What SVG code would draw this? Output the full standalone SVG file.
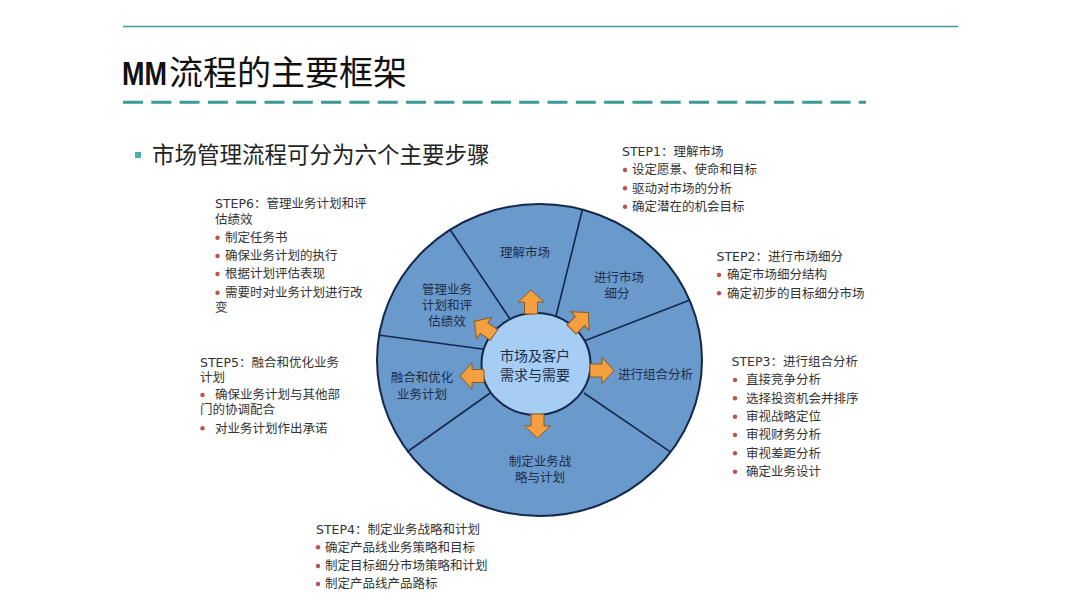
<svg xmlns="http://www.w3.org/2000/svg" width="1080" height="601" viewBox="0 0 1080 601">
<style>
.t{font-family:"DejaVu Sans","Noto Sans CJK SC",sans-serif;font-size:12.5px;fill:#333333}
.w{font-family:"Noto Sans CJK SC","DejaVu Sans",sans-serif;font-size:12.5px;fill:#1E2D4A;text-anchor:middle}
.c{font-family:"Noto Sans CJK SC","DejaVu Sans",sans-serif;font-size:14px;fill:#1E2D4A;text-anchor:middle}
.b{fill:#C0504D}
.rad{stroke:#14284B;stroke-width:1.6;fill:none}
.arr{fill:#F4A040;stroke:#8A5A22;stroke-width:1}
</style>
<defs>
<path id="arrow" d="M-6.5,0 L-6.5,-12 L-13,-12 L0,-24 L13,-12 L6.5,-12 L6.5,0 Z"/>
</defs>
<rect width="1080" height="601" fill="#FFFFFF"/>
<g id="header">
<line x1="123" y1="26.5" x2="958" y2="26.5" stroke="#3A9A98" stroke-width="1.5"/>
<text x="122" y="85" font-family="Liberation Sans,Arial,sans-serif" font-size="34" font-weight="bold" fill="#111111" textLength="45" lengthAdjust="spacingAndGlyphs">MM</text>
<text x="169" y="85" font-family="Noto Sans CJK SC,sans-serif" font-size="34" fill="#111111">流程的主要框架</text>
<line x1="123" y1="102.3" x2="866" y2="102.3" stroke="#3A9A98" stroke-width="3" stroke-dasharray="20 8.3"/>
</g>
<g id="intro">
<rect x="135" y="152" width="6" height="6" fill="#4BAFB0"/>
<text x="152" y="163" font-family="Noto Sans CJK SC,sans-serif" font-size="22.5" fill="#222222">市场管理流程可分为六个主要步骤</text>
</g>
<g id="wheel">
<ellipse cx="539.5" cy="360" rx="162.5" ry="156" fill="#6A99CC" stroke="#14284B" stroke-width="2"/>
</g>
<g id="connectors">
<line class="rad" x1="450" y1="229.5" x2="512" y2="322"/>
<line class="rad" x1="582.3" y1="210" x2="556" y2="316"/>
<line class="rad" x1="690" y1="300" x2="584" y2="341"/>
<line class="rad" x1="584" y1="393" x2="670" y2="451.7"/>
<line class="rad" x1="493" y1="391" x2="407" y2="452"/>
<line class="rad" x1="484" y1="349.3" x2="378.3" y2="335"/>
</g>
<g id="hub">
<ellipse cx="536" cy="364" rx="54.5" ry="51" fill="#A6CDF3" stroke="#14284B" stroke-width="2"/>
<text class="c" x="535" y="361">市场及客户</text>
<text class="c" x="535" y="380">需求与需要</text>
</g>
<g id="arrows">
<use href="#arrow" class="arr" transform="translate(531,314)"/>
<use href="#arrow" class="arr" transform="translate(571.5,329.5) rotate(45)"/>
<use href="#arrow" class="arr" transform="translate(590,370.5) rotate(90)"/>
<use href="#arrow" class="arr" transform="translate(537.5,414) rotate(180)"/>
<use href="#arrow" class="arr" transform="translate(484,376) rotate(-90)"/>
<use href="#arrow" class="arr" transform="translate(494,335) rotate(-55)"/>
</g>
<g id="seg1"><text class="w" x="525" y="257">理解市场</text></g>
<g id="seg2"><text class="w" x="619" y="282.3">进行市场</text><text class="w" x="617" y="298.3">细分</text></g>
<g id="seg3"><text class="w" x="618" y="379.3" style="text-anchor:start">进行组合分析</text></g>
<g id="seg4"><text class="w" x="540" y="465.8">制定业务战</text><text class="w" x="540" y="481.8">略与计划</text></g>
<g id="seg5"><text class="w" x="422" y="382">融合和优化</text><text class="w" x="422" y="398.5">业务计划</text></g>
<g id="seg6"><text class="w" x="447" y="294.3">管理业务</text><text class="w" x="447" y="310.3">计划和评</text><text class="w" x="447" y="326.3">估绩效</text></g>
<g id="step1">
<text class="t" x="622" y="156">STEP1：理解市场</text>
<circle class="b" cx="625" cy="170" r="2.2"/><text class="t" x="632" y="174.3">设定愿景、使命和目标</text>
<circle class="b" cx="625" cy="188.3" r="2.2"/><text class="t" x="632" y="192.6">驱动对市场的分析</text>
<circle class="b" cx="625" cy="206.7" r="2.2"/><text class="t" x="632" y="211">确定潜在的机会目标</text>
</g>
<g id="step2">
<text class="t" x="716.5" y="261">STEP2：进行市场细分</text>
<circle class="b" cx="719" cy="275" r="2.2"/><text class="t" x="727" y="279.3">确定市场细分结构</text>
<circle class="b" cx="719" cy="293.3" r="2.2"/><text class="t" x="727" y="297.6">确定初步的目标细分市场</text>
</g>
<g id="step3">
<text class="t" x="731.5" y="366">STEP3：进行组合分析</text>
<circle class="b" cx="735" cy="380" r="2.2"/><text class="t" x="746" y="384.3">直接竞争分析</text>
<circle class="b" cx="735" cy="398.3" r="2.2"/><text class="t" x="746" y="402.6">选择投资机会并排序</text>
<circle class="b" cx="735" cy="416.7" r="2.2"/><text class="t" x="746" y="421">审视战略定位</text>
<circle class="b" cx="735" cy="435" r="2.2"/><text class="t" x="746" y="439.3">审视财务分析</text>
<circle class="b" cx="735" cy="453.3" r="2.2"/><text class="t" x="746" y="457.6">审视差距分析</text>
<circle class="b" cx="735" cy="471.7" r="2.2"/><text class="t" x="746" y="476">确定业务设计</text>
</g>
<g id="step4">
<text class="t" x="316" y="534.3">STEP4：制定业务战略和计划</text>
<circle class="b" cx="318" cy="547.3" r="2.2"/><text class="t" x="325" y="551.6">确定产品线业务策略和目标</text>
<circle class="b" cx="318" cy="566" r="2.2"/><text class="t" x="325" y="570.3">制定目标细分市场策略和计划</text>
<circle class="b" cx="318" cy="584" r="2.2"/><text class="t" x="325" y="588.3">制定产品线产品路标</text>
</g>
<g id="step5">
<text class="t" x="200" y="366.6">STEP5：融合和优化业务</text>
<text class="t" x="200" y="382">计划</text>
<circle class="b" cx="202.5" cy="395" r="2.2"/><text class="t" x="215" y="399.3">确保业务计划与其他部</text>
<text class="t" x="200" y="414.3">门的协调配合</text>
<circle class="b" cx="202.5" cy="428.3" r="2.2"/><text class="t" x="215" y="432.6">对业务计划作出承诺</text>
</g>
<g id="step6">
<text class="t" x="215" y="208.3">STEP6：管理业务计划和评</text>
<text class="t" x="215" y="224.3">估绩效</text>
<circle class="b" cx="217.5" cy="237.7" r="2.2"/><text class="t" x="225" y="242">制定任务书</text>
<circle class="b" cx="217.5" cy="256" r="2.2"/><text class="t" x="225" y="260.3">确保业务计划的执行</text>
<circle class="b" cx="217.5" cy="274" r="2.2"/><text class="t" x="225" y="278.3">根据计划评估表现</text>
<circle class="b" cx="217.5" cy="292.7" r="2.2"/><text class="t" x="225" y="297">需要时对业务计划进行改</text>
<text class="t" x="215" y="311.6">变</text>
</g>
</svg>
